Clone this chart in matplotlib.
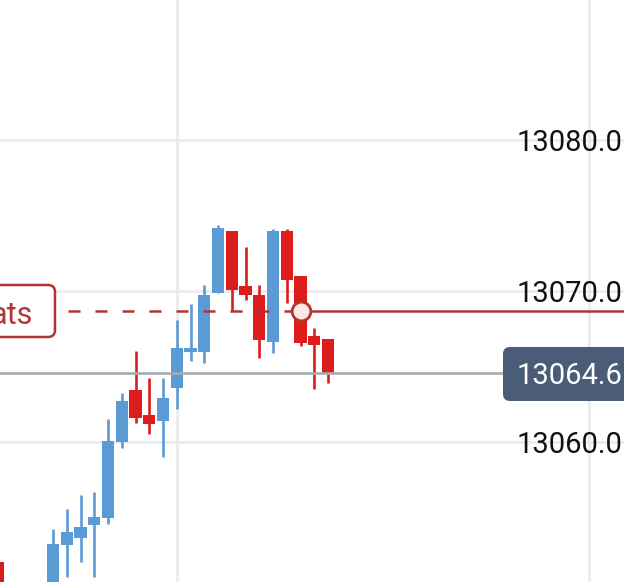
import numpy as np
import matplotlib
matplotlib.use("Agg")
import matplotlib.pyplot as plt
from matplotlib.patches import FancyBboxPatch
from matplotlib.transforms import blended_transform_factory

plt.rcParams['font.family'] = ['Roboto', 'DejaVu Sans']

# candle data (index 1-3 lie below the visible window)
opens = [13052.05, np.nan, np.nan, np.nan, 13050.0, 13053.2, 13053.66, 13054.5, 13054.99,
         13060.02, 13063.44, 13061.79, 13061.41, 13063.56, 13065.98, 13065.98, 13069.85,
         13073.99, 13070.33, 13069.74, 13066.64, 13073.97, 13071.0, 13067.04, 13066.82]
highs = [13052.1, np.nan, np.nan, np.nan, 13054.24, 13055.56, 13056.47, 13056.69, 13061.52,
         13063.27, 13066.05, 13064.22, 13064.22, 13068.08, 13069.14, 13070.4, 13074.37,
         13074.0, 13072.89, 13070.4, 13074.11, 13074.11, 13071.0, 13067.53, 13066.82]
lows = [13049.8, np.nan, np.nan, np.nan, 13049.6, 13051.06, 13052.07, 13051.08, 13054.57,
        13059.62, 13061.24, 13060.53, 13059.03, 13062.17, 13065.38, 13065.21, 13069.85,
        13068.68, 13069.4, 13065.58, 13065.87, 13069.19, 13066.38, 13063.51, 13063.93]
closes = [13050.2, np.nan, np.nan, np.nan, 13053.25, 13054.04, 13054.39, 13055.05, 13060.09,
          13062.72, 13061.57, 13061.19, 13062.89, 13066.21, 13066.21, 13069.74, 13074.19,
          13070.07, 13069.74, 13066.75, 13073.99, 13070.73, 13066.58, 13066.42, 13064.5]

price_ticks = [13050, 13060, 13070, 13080, 13090]
tick_labels = ['13080.0', '13070.0', '13060.0']
tick_values = [13080, 13070, 13060]
last_price = 13064.6
last_label = '13064.6'
position_price = 13068.7
position_idx = 22
position_text = 'ats'
vgrid_idx = [13, 43]

UP = '#5b9bd5'
DOWN = '#dd1c1c'
POS = '#b03636'

W, H = 624, 582
fig = plt.figure(figsize=(W / 100, H / 100), dpi=100)
ax = fig.add_axes([0, 0, 1, 1])
ax.set_xlim(2 / 13.75, 626 / 13.75)
ax.set_ylim(13070 - 291 / 15.1, 13070 + 291 / 15.1)
ax.axis('off')

# grid
for p in price_ticks:
    ax.axhline(p, color='#ececef', lw=2.0, zorder=0)
for i in vgrid_idx:
    ax.axvline(i, color='#ececef', lw=2.2, zorder=0)

# candles
o = np.array(opens); h = np.array(highs); l = np.array(lows); c = np.array(closes)
x = np.arange(len(o))
col = np.where(c >= o, UP, DOWN)
ax.vlines(x, l, h, colors=col, lw=1.9, zorder=2)
ax.bar(x, np.abs(c - o), bottom=np.minimum(o, c), width=0.88, color=col, zorder=3)

# last price line
ax.axhline(last_price, xmin=0, xmax=505 / W, color='#a4abb2', lw=1.9, zorder=4)

# position line
ax.axhline(position_price, xmin=68 / W, xmax=(position_idx * 13.75 - 2) / W,
           color=POS, lw=1.8, dashes=(4.8, 6.0), zorder=4)
ax.axhline(position_price, xmin=(position_idx * 13.75 - 2) / W, xmax=1,
           color=POS, lw=1.8, zorder=4)
ax.plot([position_idx], [position_price], marker='o', ms=13.5, mfc='#fde6e6',
        mec=POS, mew=2.0, zorder=6)

# price labels
tr = blended_transform_factory(ax.transAxes, ax.transData)
for v, s in zip(tick_values, tick_labels):
    ax.text(517 / W, v, s, transform=tr, fontsize=21, color='#111111',
            ha='left', va='center_baseline', zorder=5)

box = FancyBboxPatch((503 / 100, (H - 401) / 100), 1.5, 0.54,
                     boxstyle='round,pad=0,rounding_size=0.07',
                     transform=fig.dpi_scale_trans, fc='#4b5c79', ec='none', zorder=7)
ax.add_patch(box)
ax.text(517 / W, last_price, last_label, transform=tr, fontsize=21, color='white',
        ha='left', va='center_baseline', zorder=8)

# position label box
box2 = FancyBboxPatch((-0.2, (H - 337) / 100), 0.75, 0.52,
                      boxstyle='round,pad=0,rounding_size=0.07',
                      transform=fig.dpi_scale_trans, fc='white', ec=POS, lw=1.8, zorder=7)
ax.add_patch(box2)
ax.text(33 / 100, (H - 312) / 100, position_text, transform=fig.dpi_scale_trans,
        fontsize=22, color=POS, ha='right', va='center_baseline', zorder=8)

fig.savefig('out.png', dpi=100)
